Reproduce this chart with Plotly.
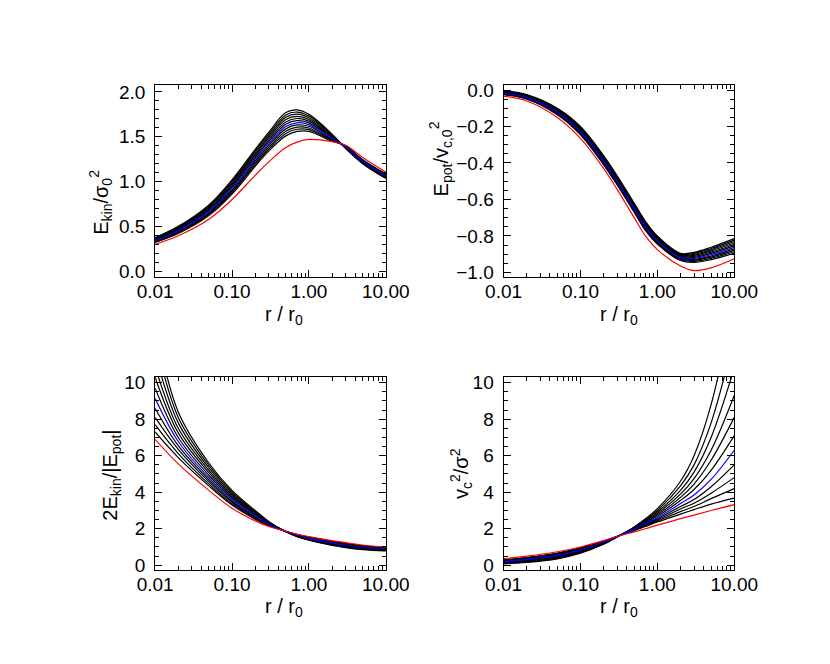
import plotly.graph_objects as go
from plotly.subplots import make_subplots

R = [0.01, 0.02, 0.05, 0.1, 0.2, 0.3, 0.5, 0.7, 1.0, 2.0, 3.0, 5.0, 10.0]

# one row per radius, one column per model (column 6 is the blue model)
EKIN = [
    [.375, .370, .364, .359, .353, .348, .342, .337, .331, .326, .320],
    [.50, .492, .484, .476, .468, .46, .452, .444, .436, .428, .42],
    [.74, .728, .716, .704, .692, .68, .668, .656, .644, .632, .62],
    [1.02, 1.004, .988, .972, .956, .94, .924, .908, .892, .876, .86],
    [1.36, 1.341, 1.322, 1.303, 1.284, 1.265, 1.246, 1.227, 1.208, 1.189, 1.17],
    [1.55, 1.529, 1.508, 1.487, 1.466, 1.445, 1.424, 1.403, 1.382, 1.361, 1.34],
    [1.77, 1.744, 1.718, 1.692, 1.666, 1.64, 1.614, 1.588, 1.562, 1.536, 1.51],
    [1.80, 1.776, 1.752, 1.728, 1.704, 1.68, 1.656, 1.632, 1.608, 1.584, 1.56],
    [1.75, 1.731, 1.712, 1.693, 1.674, 1.655, 1.636, 1.617, 1.598, 1.579, 1.56],
    [1.53, 1.522, 1.514, 1.506, 1.498, 1.49, 1.482, 1.474, 1.466, 1.458, 1.45],
    [1.37, 1.373, 1.376, 1.379, 1.382, 1.385, 1.388, 1.391, 1.394, 1.397, 1.40],
    [1.20, 1.205, 1.209, 1.214, 1.218, 1.223, 1.227, 1.232, 1.236, 1.241, 1.245],
    [1.035, 1.04, 1.045, 1.05, 1.055, 1.06, 1.065, 1.07, 1.075, 1.08, 1.085],
]
EKIN_RED = [.30, .395, .58, .80, 1.07, 1.22, 1.38, 1.44, 1.47, 1.445, 1.405, 1.27, 1.105]

EPOT = [
    [-.003, -.005, -.007, -.010, -.012, -.014, -.016, -.018, -.021, -.023, -.025],
    [-.025, -.0275, -.03, -.0325, -.035, -.0375, -.04, -.0425, -.045, -.0475, -.05],
    [-.10, -.1035, -.107, -.1105, -.114, -.1175, -.121, -.1245, -.128, -.1315, -.135],
    [-.20, -.2045, -.209, -.2135, -.218, -.2225, -.227, -.2315, -.236, -.2405, -.245],
    [-.36, -.365, -.37, -.375, -.38, -.385, -.39, -.395, -.40, -.405, -.41],
    [-.47, -.475, -.48, -.485, -.49, -.495, -.50, -.505, -.51, -.515, -.52],
    [-.62, -.625, -.63, -.635, -.64, -.645, -.65, -.655, -.66, -.665, -.67],
    [-.72, -.725, -.73, -.735, -.74, -.745, -.75, -.755, -.76, -.765, -.77],
    [-.80, -.8045, -.809, -.8135, -.818, -.8225, -.827, -.8315, -.836, -.8405, -.845],
    [-.895, -.899, -.903, -.907, -.911, -.915, -.919, -.923, -.927, -.931, -.935],
    [-.89, -.8955, -.901, -.9065, -.912, -.9175, -.923, -.9285, -.934, -.9395, -.945],
    [-.862, -.869, -.876, -.882, -.889, -.896, -.903, -.910, -.916, -.923, -.93],
    [-.815, -.823, -.831, -.839, -.847, -.855, -.863, -.871, -.879, -.887, -.895],
]
EPOT_RED = [-.033, -.06, -.15, -.265, -.43, -.545, -.70, -.80, -.875, -.965, -.99, -.975, -.925]

VIRIAL = [
    [13.2, 12.4, 11.6, 10.9, 10.3, 9.7, 9.15, 8.6, 8.1, 7.7, 7.3],
    [8.4, 8.1, 7.8, 7.5, 7.25, 7.0, 6.78, 6.55, 6.35, 6.12, 5.9],
    [5.6, 5.47, 5.33, 5.2, 5.07, 4.93, 4.8, 4.69, 4.58, 4.46, 4.35],
    [4.1, 4.02, 3.93, 3.85, 3.77, 3.68, 3.6, 3.52, 3.45, 3.37, 3.3],
    [3.0, 2.95, 2.9, 2.85, 2.8, 2.75, 2.7, 2.655, 2.61, 2.565, 2.52],
    [2.4, 2.375, 2.35, 2.325, 2.3, 2.275, 2.25, 2.23, 2.21, 2.19, 2.17],
    [1.84, 1.842, 1.844, 1.846, 1.848, 1.85, 1.852, 1.854, 1.856, 1.858, 1.86],
    [1.57, 1.582, 1.594, 1.606, 1.618, 1.63, 1.642, 1.654, 1.666, 1.678, 1.69],
    [1.37, 1.387, 1.404, 1.421, 1.438, 1.455, 1.472, 1.489, 1.506, 1.523, 1.54],
    [1.09, 1.112, 1.134, 1.156, 1.178, 1.2, 1.222, 1.244, 1.266, 1.288, 1.31],
    [.97, .993, 1.016, 1.039, 1.062, 1.085, 1.108, 1.131, 1.154, 1.177, 1.2],
    [.86, .881, .902, .923, .944, .965, .986, 1.007, 1.028, 1.049, 1.07],
    [.78, .798, .816, .834, .852, .87, .888, .906, .924, .942, .96],
]
VIRIAL_RED = [6.9, 5.55, 4.1, 3.12, 2.43, 2.12, 1.86, 1.70, 1.57, 1.35, 1.24, 1.11, 1.0]

VCSIG = [
    [.08, .10, .12, .14, .16, .18, .20, .22, .25, .275, .30],
    [.15, .18, .20, .23, .26, .29, .32, .35, .38, .405, .43],
    [.35, .38, .41, .45, .48, .51, .545, .58, .61, .64, .67],
    [.66, .69, .72, .75, .78, .81, .84, .87, .90, .925, .95],
    [1.15, 1.17, 1.19, 1.21, 1.23, 1.25, 1.27, 1.28, 1.30, 1.315, 1.33],
    [1.55, 1.553, 1.556, 1.559, 1.562, 1.565, 1.568, 1.571, 1.574, 1.577, 1.58],
    [2.1, 2.08, 2.06, 2.04, 2.02, 2.0, 1.98, 1.96, 1.94, 1.92, 1.9],
    [2.55, 2.5, 2.46, 2.42, 2.38, 2.34, 2.3, 2.26, 2.22, 2.17, 2.12],
    [3.1, 3.0, 2.92, 2.84, 2.76, 2.68, 2.6, 2.54, 2.48, 2.42, 2.37],
    [4.6, 4.35, 4.1, 3.9, 3.72, 3.55, 3.38, 3.22, 3.08, 2.94, 2.8],
    [6.0, 5.5, 5.1, 4.75, 4.45, 4.15, 3.85, 3.6, 3.4, 3.22, 3.05],
    [8.8, 7.8, 7.0, 6.3, 5.75, 5.2, 4.7, 4.3, 3.95, 3.65, 3.35],
    [14.5, 12.5, 10.8, 9.3, 8.1, 7.1, 6.3, 5.5, 4.8, 4.2, 3.68],
]
VCSIG_RED = [.36, .50, .74, 1.0, 1.35, 1.58, 1.83, 2.0, 2.2, 2.55, 2.75, 3.0, 3.32]

BLUE_COL = 6

X_TICKS = [0.01, 0.1, 1, 10]
X_TICKTEXT = ['0.01', '0.10', '1.00', '10.00']
X_MINOR = [k * 10.0 ** e for e in (-2, -1, 0) for k in range(2, 10)]

FONT = 'Liberation Sans'
W, H = 830, 664

fig = make_subplots(rows=2, cols=2)

panels = [
    (EKIN, EKIN_RED, 1, 1),
    (EPOT, EPOT_RED, 1, 2),
    (VIRIAL, VIRIAL_RED, 2, 1),
    (VCSIG, VCSIG_RED, 2, 2),
]

for table, red, row, col in panels:
    ncurves = len(table[0])
    order = [j for j in range(ncurves) if j != BLUE_COL] + [BLUE_COL]
    for j in order:
        fig.add_trace(go.Scatter(
            x=R, y=[rowvals[j] for rowvals in table], mode='lines',
            line=dict(color='#0000ff' if j == BLUE_COL else 'black',
                      width=1.2, shape='spline'),
            hoverinfo='skip'), row=row, col=col)
    fig.add_trace(go.Scatter(
        x=R, y=red, mode='lines',
        line=dict(color='#ff0000', width=1.2, shape='spline'),
        hoverinfo='skip'), row=row, col=col)


def px_dom(a, b, size):
    return [a / size, b / size]


x_left = px_dom(136, 379, W)
x_right = px_dom(503, 746, W)
y_top = [1 - 268 / H, 1 - 73 / H]
y_bot = [1 - 566 / H, 1 - 370 / H]

axis_common = dict(showline=True, linecolor='black', linewidth=1, mirror='ticks',
                   ticks='inside', ticklen=7, tickcolor='black', tickwidth=1,
                   showgrid=False, zeroline=False,
                   tickfont=dict(family=FONT, size=19, color='black'))

xcommon = dict(axis_common, type='log', range=[-2, 1], tickmode='array',
               tickvals=X_TICKS, ticktext=X_TICKTEXT, ticklabelstandoff=-2,
               minor=dict(tickmode='array', tickvals=X_MINOR, ticks='inside',
                          ticklen=4, tickcolor='black'))

fig.update_layout(
    xaxis=dict(xcommon, domain=x_left),
    xaxis2=dict(xcommon, domain=x_right),
    xaxis3=dict(xcommon, domain=x_left),
    xaxis4=dict(xcommon, domain=x_right),
    yaxis=dict(axis_common, domain=y_top, range=[-0.06, 2.08], tickmode='array',
               tickvals=[0, 0.5, 1, 1.5, 2], ticktext=['0.0', '0.5', '1.0', '1.5', '2.0'],
               ticklabelstandoff=5,
               minor=dict(dtick=0.1, ticks='inside', ticklen=4, tickcolor='black')),
    yaxis2=dict(axis_common, domain=y_top, range=[-1.023, 0.029], tickmode='array',
                tickvals=[-1, -0.8, -0.6, -0.4, -0.2, 0],
                ticktext=['\u22121.0', '\u22120.8', '\u22120.6', '\u22120.4', '\u22120.2', '0.0'],
                ticklabelstandoff=5,
                minor=dict(dtick=0.05, ticks='inside', ticklen=4, tickcolor='black')),
    yaxis3=dict(axis_common, domain=y_bot, range=[-0.24, 10.32], tickmode='array',
                tickvals=[0, 2, 4, 6, 8, 10], ticklabelstandoff=5,
                minor=dict(dtick=0.5, ticks='inside', ticklen=4, tickcolor='black')),
    yaxis4=dict(axis_common, domain=y_bot, range=[-0.24, 10.32], tickmode='array',
                tickvals=[0, 2, 4, 6, 8, 10], ticklabelstandoff=5,
                minor=dict(dtick=0.5, ticks='inside', ticklen=4, tickcolor='black')),
)


def label(text, px, py, angle=0):
    fig.add_annotation(text=text, x=px / W, y=1 - py / H, xref='paper', yref='paper',
                       xanchor='center', yanchor='middle', textangle=angle,
                       showarrow=False, font=dict(family=FONT, size=20, color='black'))


xt = 'r / r<sub>0</sub>'
label(xt, 272, 308)
label(xt, 625, 308)
label(xt, 272, 605)
label(xt, 625, 605)

label('E<sub>kin</sub>/\u03c3<sub>0</sub><sup>2</sup>', 79, 193, -90)
label('E<sub>pot</sub>/v<sub>c,0</sub><sup>2</sup>', 437, 148, -90)
label('2E<sub>kin</sub>/|E<sub>pot</sub>|', 90, 470, -90)
label('v<sub>c</sub><sup>2</sup>/\u03c3<sup>2</sup>', 458, 468, -90)

fig.update_layout(width=W, height=H, margin=dict(l=0, r=0, t=0, b=0),
                  paper_bgcolor='white', plot_bgcolor='white', showlegend=False)

fig.write_html("out.html")
